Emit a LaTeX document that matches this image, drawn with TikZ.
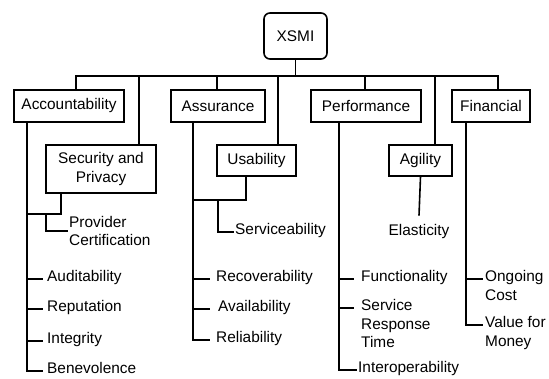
\documentclass[tikz,border=0pt]{standalone}
\usepackage{fontspec}
\setmainfont{Liberation Sans}
\tikzset{
  box/.style={draw, line width=1.6pt, inner sep=0pt, align=center},
  leaf/.style={inner sep=0pt, align=left, anchor=mid west},
  link/.style={line width=1.6pt},
}
\begin{document}
\begin{tikzpicture}[x=1pt, y=-1pt, font=\fontsize{15.4}{18.5}\selectfont]
  \useasboundingbox (0,0) rectangle (549,379);

  % Root and the groups below it
  \node[box, rounded corners=6pt, minimum width=63pt, minimum height=46pt] (xsmi) at (295.5,36) {XSMI};
  \node[box, minimum width=110pt, minimum height=32pt] (acc) at (69,106) {Accountability};
  \node[box, minimum width=110pt, minimum height=48pt] (sec) at (101,169) {Security and\\Privacy};
  \node[box, minimum width=94pt, minimum height=32pt] (ass) at (218,106) {Assurance};
  \node[box, minimum width=79pt, minimum height=31pt] (usa) at (256.5,160.5) {Usability};
  \node[box, minimum width=110pt, minimum height=32pt] (per) at (366,106) {Performance};
  \node[box, minimum width=63pt, minimum height=31pt] (agi) at (420.5,160.5) {Agility};
  \node[box, minimum width=78pt, minimum height=32pt] (fin) at (491,106) {Financial};

  % Bus from the root
  \coordinate (bus) at ([yshift=-16pt]xsmi.south);
  \draw[link] (xsmi.south) -- (bus);
  \foreach \g/\dx in {acc/63, sec/94, ass/47, usa/62, per/55, agi/47, fin/47}
    \draw[link] (bus) -| ([xshift=\dx pt]\g.north west);

  % Accountability
  \foreach \n/\y/\txt in {aud/279/Auditability, rep/309/Reputation, int/341/Integrity, ben/371/Benevolence} {
    \node[leaf] (\n) at (47,\y) {\txt};
    \draw[link] ([xshift=14pt]acc.south west) |- ([xshift=-4pt]\n.mid west);
  }
  \coordinate (secj) at (28,214);
  \coordinate (provj) at (46,214);
  \draw[link] ([xshift=16pt]sec.south west) |- (secj);
  \node[leaf, anchor=west] (prov) at (69,231) {Provider\\Certification};
  \draw[link] (provj) |- ([xshift=-1pt]prov.west);

  % Assurance
  \foreach \n/\y/\x/\gap/\txt in {rec/279/216/6/Recoverability, ava/309/218/8/Availability, rel/340/216/6/Reliability} {
    \node[leaf] (\n) at (\x,\y) {\txt};
    \draw[link] ([xshift=23pt]ass.south west) |- ([xshift=-\gap pt]\n.mid west);
  }
  \coordinate (usaj) at (194,200);
  \coordinate (serj) at (218,200);
  \draw[link] ([xshift=30pt]usa.south west) |- (usaj);
  \node[leaf] (ser) at (235,232) {Serviceability};
  \draw[link] (serj) |- ([xshift=-1pt]ser.mid west);

  % Performance (multi-line texts sit on their last line)
  \node[leaf] (fun) at (361,279) {Functionality};
  \node[leaf] (srt) at (361,345) {Service\\Response\\Time};
  \node[leaf] (iop) at (358,370) {Interoperability};
  \draw[link] ([xshift=29pt]per.south west) |- ([xshift=-7pt]fun.mid west);
  \draw[link] ([xshift=29pt]per.south west) |- ([xshift=-7pt, yshift=37pt]srt.mid west);
  \draw[link] ([xshift=29pt]per.south west) |- ([xshift=-1pt]iop.mid west);

  % Agility
  \node[inner sep=0pt] (ela) at (419,232) {Elasticity};
  \draw[link] (agi.south) -- ([yshift=9pt]ela.north);

  % Financial
  \foreach \n/\y/\txt in {ong/279/Ongoing\\Cost, val/325/Value for\\Money} {
    \node[leaf] (\n) at (485,\y+18.5) {\txt};
    \draw[link] ([xshift=15pt]fin.south west) |- ([xshift=-2pt, yshift=18.5pt]\n.mid west);
  }
\end{tikzpicture}
\end{document}
